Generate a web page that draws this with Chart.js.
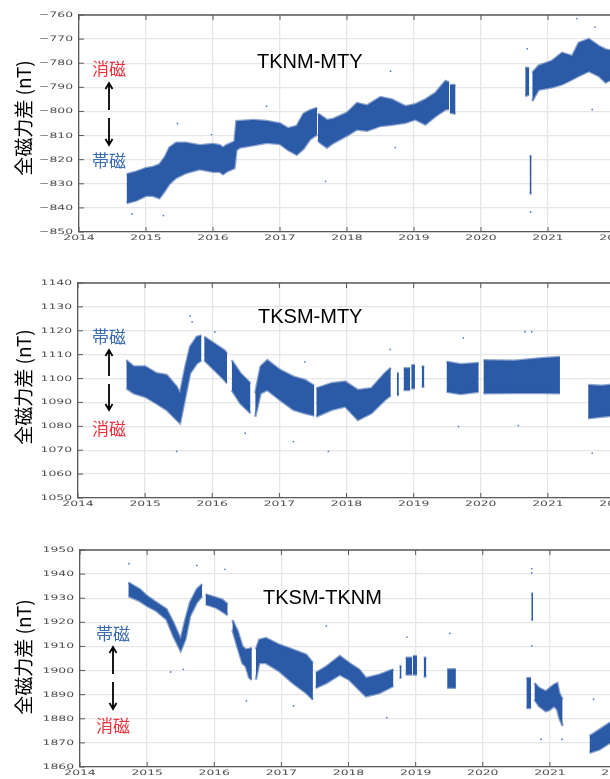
<!DOCTYPE html>
<html>
<head>
<meta charset="utf-8">
<script src="https://cdn.jsdelivr.net/npm/chart.js@4.4.1/dist/chart.umd.min.js"></script>
<style>
  html, body { margin: 0; padding: 0; background: #fff; overflow: hidden; width: 610px; height: 779px; }
  .panel { position: absolute; left: 0; width: 640px; height: 252px; }
</style>
</head>
<body>
<div class="panel" style="top:-3px"><canvas id="c1" width="640" height="252"></canvas></div>
<div class="panel" style="top:265px"><canvas id="c2" width="640" height="252"></canvas></div>
<div class="panel" style="top:532px"><canvas id="c3" width="640" height="252"></canvas></div>
<script>
// Données (enveloppe basse / haute du nuage de points, null = lacune)
const yearLabels = ['2014', '2015', '2016', '2017', '2018', '2019', '2020', '2021', '2022'];

// TKNM-MTY
const t1  = [2014.71, 2014.85, 2015.0, 2015.1, 2015.2, 2015.28, 2015.35, 2015.45, 2015.6, 2015.8, 2016.0, 2016.1, 2016.15, 2016.2, 2016.32, 2016.35, 2016.4, 2016.6, 2016.8, 2017.0, 2017.12, 2017.25, 2017.35, 2017.45, 2017.555,
             2017.56, 2017.565, 2017.6, 2017.7, 2017.8, 2018.0, 2018.15, 2018.3, 2018.5, 2018.67, 2018.87, 2019.02, 2019.17, 2019.32, 2019.47, 2019.525,
             2019.53, 2019.535, 2019.62,
             2020.0, 2020.66, 2020.72,
             2020.722, 2020.725, 2020.755,
             2020.76, 2020.765, 2020.86, 2021.06, 2021.21, 2021.36, 2021.46, 2021.61, 2021.76, 2021.86, 2022.0];
const lo1 = [-838, -837, -835, -835, -836, -833, -830, -827.5, -825.5, -824, -825, -825, -826, -825, -823.5, -816, -815, -814, -813, -813.5, -816, -818, -815.5, -811.5, -809.5,
             null, -812, -813, -815, -813, -810, -807.5, -808, -806, -805.5, -804.7, -803.3, -805.4, -802, -799.2, -799,
             null, -800.5, -801,
             null, -793.6, -793,
             null, -834, -834,
             null, -795.7, -791, -790, -788.8, -786.7, -785.3, -783.3, -785.3, -788, -786];
const hi1 = [-826, -825, -823.5, -823, -822, -819, -815, -813, -813, -814, -813.5, -814, -815, -814, -812.5, -804, -804, -803.5, -804, -805, -807, -806, -801, -799.5, -798.5,
             null, -801, -801.5, -803.5, -803, -800.5, -796.5, -797.5, -794, -795, -797.8, -797, -795, -792.3, -787.4, -788,
             null, -789, -789,
             null, -781.9, -782,
             null, -818.5, -818.5,
             null, -784, -781, -779, -775.7, -777, -771.5, -770, -772.9, -774.3, -775];
const out1 = [[2014.79, -842.5], [2015.26, -843.2], [2015.47, -805], [2015.98, -809.6], [2016.8, -797.8], [2017.68, -829],
              [2018.65, -783.3], [2018.72, -815], [2020.69, -774], [2020.74, -841.7], [2021.43, -761.5], [2021.7, -765], [2021.66, -799.2]];
const yLabels1 = ['\u2212850', '\u2212840', '\u2212830', '\u2212820', '\u2212810', '\u2212800', '\u2212790', '\u2212780', '\u2212770', '\u2212760'];

// TKSM-MTY
const t2  = [2014.72, 2014.83, 2015.0, 2015.17, 2015.32, 2015.47, 2015.52, 2015.6, 2015.67, 2015.77, 2015.84,
             2015.86, 2015.88, 2016.03, 2016.18, 2016.22,
             2016.26, 2016.29, 2016.42, 2016.57,
             2016.6, 2016.64, 2016.72, 2016.82, 2017.01, 2017.21, 2017.38, 2017.52,
             2017.535, 2017.55, 2017.78, 2017.98, 2018.17, 2018.37, 2018.57, 2018.66,
             2018.7, 2018.75, 2018.78,
             2018.8, 2018.85, 2018.95,
             2018.958, 2018.965, 2019.02,
             2019.08, 2019.12, 2019.16,
             2019.3, 2019.49, 2019.7, 2019.97,
             2020.0, 2020.04, 2020.5, 2020.9, 2021.18,
             2021.3, 2021.6, 2021.8, 2022.0];
const lo2 = [1096, 1093.8, 1092.4, 1089.6, 1086.9, 1082.7, 1081.3, 1092.4, 1102.2, 1106.3, 1107.7,
             null, 1107.7, 1103.6, 1099.4, 1098,
             null, 1095.2, 1089.6, 1085.5,
             null, 1084, 1093.8, 1095.2, 1091, 1086.9, 1085.5, 1084.5,
             null, 1084.1, 1086.9, 1088.3, 1082.7, 1085.5, 1091, 1093,
             null, 1093.1, 1093.1,
             null, 1095.2, 1095.2,
             null, 1095.9, 1095.9,
             null, 1096.6, 1096.6,
             null, 1094.5, 1093.5, 1094.5,
             null, 1093.8, 1094, 1094, 1093.8,
             null, 1083.4, 1084, 1084.5];
const hi2 = [1107.7, 1105, 1105, 1102.2, 1101.5, 1096.6, 1093.8, 1105, 1113.3, 1117.5, 1118,
             null, 1117.5, 1114.7, 1111.9, 1110.5,
             null, 1107.7, 1102.2, 1098,
             null, 1093.8, 1105, 1107.7, 1103.6, 1100.8, 1099.4, 1097,
             null, 1095.9, 1098, 1098.7, 1095.2, 1095.9, 1102.2, 1104.5,
             null, 1102.2, 1102.2,
             null, 1104.3, 1104.3,
             null, 1105.6, 1105.6,
             null, 1105, 1105,
             null, 1107, 1106, 1106.5,
             null, 1107.7, 1107.5, 1108.5, 1109,
             null, 1097.3, 1097, 1097.5];
const out2 = [[2015.67, 1126.2], [2015.7, 1123.7], [2015.47, 1069.5], [2016.04, 1119.5], [2016.49, 1077.1], [2017.21, 1073.6],
              [2019.74, 1117], [2020.66, 1119.6], [2020.76, 1119.6], [2017.73, 1069.5], [2019.67, 1079.9], [2021.66, 1068.8],
              [2020.56, 1080.3], [2018.65, 1112.2], [2017.38, 1107]];
const yLabels2 = ['1050', '1060', '1070', '1080', '1090', '1100', '1110', '1120', '1130', '1140'];

// TKSM-TKNM
const t3  = [2014.72, 2014.89, 2015.0, 2015.14, 2015.29, 2015.39, 2015.5, 2015.57, 2015.64, 2015.74, 2015.82,
             2015.845, 2015.87, 2016.03, 2016.12, 2016.2,
             2016.24, 2016.27, 2016.35, 2016.42, 2016.47, 2016.52, 2016.56,
             2016.59, 2016.62, 2016.67, 2016.77, 2016.97, 2017.17, 2017.37, 2017.47,
             2017.49, 2017.51, 2017.67, 2017.87, 2018.01, 2018.16, 2018.26, 2018.46, 2018.67,
             2018.72, 2018.76, 2018.79,
             2018.82, 2018.85, 2018.95,
             2018.955, 2018.96, 2019.02,
             2019.08, 2019.12, 2019.16,
             2019.3, 2019.47, 2019.6,
             2020.0, 2020.65, 2020.72,
             2020.722, 2020.723, 2020.75,
             2020.76, 2020.77, 2020.84, 2020.94, 2021.0, 2021.06, 2021.11, 2021.14, 2021.19,
             2021.4, 2021.59, 2021.74, 2021.89, 2022.0];
const lo3 = [1930.9, 1928.8, 1926.8, 1924.7, 1921.2, 1914.3, 1908.1, 1913, 1922.6, 1928.2, 1930.9,
             null, 1927.5, 1926.1, 1924.5, 1923,
             null, 1917, 1909.4, 1903, 1901.7, 1897, 1896.2,
             null, 1896.2, 1903.1, 1903.1, 1899.7, 1894.8, 1890.7, 1887.9,
             null, 1892.8, 1894.8, 1898.3, 1896.2, 1892, 1889.3, 1890.7, 1893.6,
             null, 1897, 1897,
             null, 1898.4, 1898.4,
             null, 1898.4, 1898.4,
             null, 1897.5, 1897.5,
             null, 1892.9, 1892.9,
             null, 1884.5, 1884.5,
             null, 1921, 1921,
             null, 1888, 1885.2, 1883.1, 1883.8, 1885.2, 1883.8, 1880.4, 1877,
             null, 1865.9, 1867.3, 1870, 1871];
const hi3 = [1936.5, 1933.7, 1930.9, 1928.2, 1925.4, 1919.9, 1913, 1921.2, 1928.2, 1933.7, 1935.8,
             null, 1931.6, 1930.2, 1929.4, 1927.5,
             null, 1921, 1916.3, 1910, 1908.7, 1909, 1909.4,
             null, 1908.7, 1912.8, 1913.5, 1910.7, 1908.7, 1906.6, 1903.1,
             null, 1899, 1901.7, 1906, 1903.1, 1900.4, 1896.9, 1898.3, 1900.5,
             null, 1901.9, 1901.9,
             null, 1905.3, 1905.3,
             null, 1906, 1906,
             null, 1905.3, 1905.3,
             null, 1900.5, 1900.5,
             null, 1896.9, 1896.9,
             null, 1932, 1932,
             null, 1894.8, 1892.8, 1891.4, 1892.8, 1894.1, 1894.8, 1890.7, 1888,
             null, 1872.8, 1875.5, 1878.3, 1879];
const out3 = [[2014.73, 1944.3], [2015.74, 1943.6], [2016.16, 1942], [2015.35, 1899.4], [2015.54, 1900.5], [2016.48, 1887.4],
              [2017.18, 1885.3], [2020.73, 1942.3], [2020.73, 1940.5], [2019.51, 1915.4], [2018.87, 1913.9], [2017.67, 1918.5], [2018.57, 1880.5],
              [2021.18, 1871.5], [2021.65, 1888.1], [2020.87, 1871.5], [2020.73, 1910.2]];
const yLabels3 = ['1860', '1870', '1880', '1890', '1900', '1910', '1920', '1930', '1940', '1950'];

// Styles
const BLUE = '#2b5aa6';
const BLUE_EDGE = 'rgba(43, 90, 166, 0.55)';
const RED = '#f0333d';
const LABEL_BLUE = '#3a6ab2';
const GRID = '#e6e6e6';
const AXIS = '#5a5a5a';
const TICKFONT = '7.5px "DejaVu Sans"';

const toPts = (t, v) => t.map((x, i) => ({ x: x, y: v[i] }));

// Dessin des éléments hors Chart.js (cadre, graduations, textes, flèches)
const decor = {
    id: 'decor',
    afterDraw(chart, args, o) {
        const ctx = chart.ctx;
        const a = chart.chartArea;
        const xs = chart.scales.x;
        const ys = chart.scales.y;
        ctx.save();
        ctx.strokeStyle = AXIS;
        ctx.lineWidth = 1.3;
        ctx.beginPath();
        ctx.moveTo(a.left, a.top);
        ctx.lineTo(a.right, a.top);
        ctx.stroke();
        // graduations intérieures
        ctx.lineWidth = 1;
        ctx.beginPath();
        xs.ticks.forEach((tk) => {
            const px = xs.getPixelForValue(tk.value);
            ctx.moveTo(px, a.top); ctx.lineTo(px, a.top + 5);
            ctx.moveTo(px, a.bottom); ctx.lineTo(px, a.bottom - 5);
        });
        ys.ticks.forEach((tk) => {
            const py = ys.getPixelForValue(tk.value);
            ctx.moveTo(a.left, py); ctx.lineTo(a.left + 5, py);
            ctx.moveTo(a.right, py); ctx.lineTo(a.right - 5, py);
        });
        ctx.stroke();
        // étiquettes des graduations (police étirée)
        ctx.fillStyle = '#4d4d4d';
        ctx.font = TICKFONT;
        ys.ticks.forEach((tk, i) => {
            const py = ys.getPixelForValue(tk.value);
            ctx.save();
            ctx.translate(a.left - 6, py);
            ctx.scale(1.65, 1);
            ctx.textAlign = 'right';
            ctx.textBaseline = 'middle';
            ctx.fillText(o.yLabels[i], 0, 0);
            ctx.restore();
        });
        xs.ticks.forEach((tk) => {
            const px = xs.getPixelForValue(tk.value);
            ctx.save();
            ctx.translate(px, a.bottom + 2);
            ctx.scale(1.65, 1);
            ctx.textAlign = 'center';
            ctx.textBaseline = 'top';
            ctx.fillText(yearLabels[Math.round(tk.value) - 2014], 0, 0);
            ctx.restore();
        });
        // titre de l'axe y
        ctx.save();
        ctx.translate(24, o.yTitleY);
        ctx.rotate(-Math.PI / 2);
        ctx.fillStyle = '#000';
        ctx.font = '19px "Noto Sans CJK JP"';
        ctx.textAlign = 'center';
        ctx.textBaseline = 'middle';
        ctx.fillText('全磁力差 (nT)', 0, 0);
        ctx.restore();
        // nom de la paire de stations
        ctx.fillStyle = '#000';
        ctx.font = '20px "Liberation Sans"';
        ctx.textAlign = 'left';
        ctx.textBaseline = 'alphabetic';
        ctx.fillText(o.title, o.titleX, o.titleY);
        // 消磁 / 帯磁
        const n = o.note;
        ctx.font = '17px "Noto Sans CJK JP"';
        ctx.textAlign = 'center';
        ctx.textBaseline = 'middle';
        ctx.fillStyle = n.topColor;
        ctx.fillText(n.topText, n.x, n.topY);
        ctx.fillStyle = n.bottomColor;
        ctx.fillText(n.bottomText, n.x, n.bottomY);
        const mid = (n.a0 + n.a1) / 2;
        ctx.strokeStyle = '#000';
        ctx.lineWidth = 1.8;
        ctx.beginPath();
        ctx.moveTo(n.x, n.a0 + 1); ctx.lineTo(n.x, mid - 4);
        ctx.moveTo(n.x - 3.5, n.a0 + 6); ctx.lineTo(n.x, n.a0); ctx.lineTo(n.x + 3.5, n.a0 + 6);
        ctx.moveTo(n.x, mid + 4); ctx.lineTo(n.x, n.a1 - 1);
        ctx.moveTo(n.x - 3.5, n.a1 - 6); ctx.lineTo(n.x, n.a1); ctx.lineTo(n.x + 3.5, n.a1 - 6);
        ctx.stroke();
        ctx.restore();
    }
};

const makeChart = (id, t, lo, hi, outliers, cfg) => new Chart(document.getElementById(id), {
    type: 'line',
    data: {
        datasets: [
            { data: toPts(t, lo), borderColor: BLUE_EDGE, borderWidth: 2.5, pointRadius: 0, fill: false, spanGaps: false },
            { data: toPts(t, hi), borderColor: BLUE_EDGE, borderWidth: 2.5, pointRadius: 0, fill: '-1', backgroundColor: BLUE, spanGaps: false },
            { data: outliers.map((p) => ({ x: p[0], y: p[1] })), showLine: false, pointRadius: 0.9, pointBackgroundColor: '#5b80c0', pointBorderWidth: 0 }
        ]
    },
    options: {
        responsive: false,
        animation: false,
        layout: { padding: { top: 18, right: cfg.padRight, left: 0, bottom: 0 } },
        plugins: {
            legend: { display: false },
            tooltip: { enabled: false },
            decor: cfg.decor
        },
        scales: {
            x: {
                type: 'linear', min: 2014, max: 2022,
                ticks: { stepSize: 1, display: false },
                grid: { color: GRID, lineWidth: 1.3, drawTicks: false },
                border: { color: AXIS, width: 1.3 },
                afterFit: (s) => { s.height = cfg.xh; }
            },
            y: {
                min: cfg.min, max: cfg.max,
                ticks: { stepSize: 10, display: false },
                grid: { color: GRID, lineWidth: 1.3, drawTicks: false },
                border: { color: AXIS, width: 1.3 },
                afterFit: (s) => { s.width = cfg.left; }
            }
        }
    },
    plugins: [decor]
});

makeChart('c1', t1, lo1, hi1, out1, {
    left: 79, padRight: 25, xh: 17, min: -850, max: -760,
    decor: {
        yLabels: yLabels1, yTitleY: 121, title: 'TKNM-MTY', titleX: 257, titleY: 71,
        note: { x: 109, topText: '消磁', topColor: RED, topY: 71.5, bottomText: '帯磁', bottomColor: LABEL_BLUE, bottomY: 164, a0: 86, a1: 148 }
    }
});
makeChart('c2', t2, lo2, hi2, out2, {
    left: 78, padRight: 25, xh: 19, min: 1050, max: 1140,
    decor: {
        yLabels: yLabels2, yTitleY: 122, title: 'TKSM-MTY', titleX: 258, titleY: 58,
        note: { x: 109, topText: '帯磁', topColor: LABEL_BLUE, topY: 71.5, bottomText: '消磁', bottomColor: RED, bottomY: 163.5, a0: 85, a1: 145 }
    }
});
makeChart('c3', t3, lo3, hi3, out3, {
    left: 80, padRight: 23, xh: 17, min: 1860, max: 1950,
    decor: {
        yLabels: yLabels3, yTitleY: 125, title: 'TKSM-TKNM', titleX: 263, titleY: 72,
        note: { x: 113, topText: '帯磁', topColor: LABEL_BLUE, topY: 102, bottomText: '消磁', bottomColor: RED, bottomY: 193.5, a0: 115, a1: 177 }
    }
});
</script>
</body>
</html>
